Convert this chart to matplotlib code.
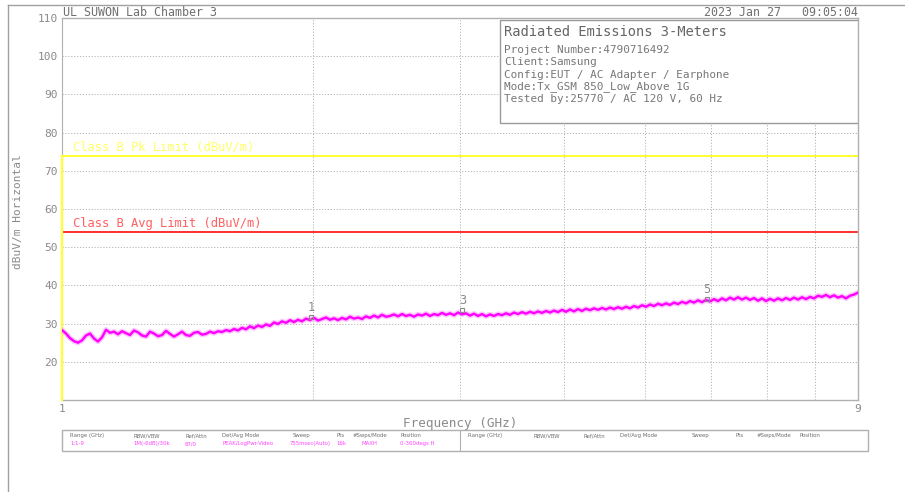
import numpy as np
import matplotlib.pyplot as plt
from matplotlib.lines import Line2D
from matplotlib.patches import Rectangle

# Peak trace, 200 samples log-spaced from 1 to 9 GHz
trace_db = [
    28.3, 27.4, 26.2, 25.4, 25.0, 25.6, 26.9, 27.4, 26.1, 25.3,
    26.4, 28.4, 27.6, 27.9, 27.2, 28.0, 27.5, 27.0, 28.2, 27.7,
    26.9, 26.6, 27.9, 27.4, 26.7, 27.0, 28.1, 27.3, 26.6, 27.2,
    27.9, 27.0, 26.8, 27.6, 27.8, 27.1, 27.3, 27.9, 27.5, 28.0,
    27.8, 28.3, 28.0, 28.6, 28.2, 28.9, 28.5, 29.3, 28.8, 29.5,
    29.1, 29.8, 29.4, 30.3, 29.9, 30.6, 30.2, 30.9, 30.4, 31.0,
    30.6, 31.3, 30.9, 31.5, 30.8, 31.2, 31.6, 31.0, 31.4, 30.9,
    31.5, 31.1, 31.8, 31.3, 31.6, 31.2, 31.9, 31.5, 32.1, 31.6,
    32.3, 31.8, 32.0, 32.4, 31.9, 32.5, 32.0, 32.3, 31.8, 32.4,
    32.1, 32.6, 32.0, 32.5, 32.2, 32.8, 32.3, 32.7, 32.2, 32.9,
    32.4, 32.7, 32.1, 32.6, 32.0, 32.5, 31.9, 32.4, 32.0, 32.5,
    32.2, 32.7, 32.3, 32.9, 32.5, 33.0, 32.6, 33.1, 32.7, 33.2,
    32.8, 33.3, 32.9, 33.4, 33.0, 33.6, 33.1, 33.7, 33.2, 33.8,
    33.3, 33.9, 33.5, 34.0, 33.6, 34.1, 33.7, 34.2, 33.8, 34.3,
    33.9, 34.4, 34.0, 34.6, 34.2, 34.8, 34.4, 35.0, 34.6, 35.2,
    34.8, 35.3, 34.9, 35.5, 35.1, 35.7, 35.3, 35.9, 35.5, 36.1,
    35.6, 36.2, 35.8, 36.4, 35.9, 36.6, 36.1, 36.8, 36.3, 36.9,
    36.3, 36.8, 36.2, 36.7, 36.0, 36.6, 35.9, 36.5, 36.0, 36.6,
    36.1, 36.7, 36.2, 36.8, 36.3, 36.9, 36.4, 37.0, 36.6, 37.3,
    37.0, 37.5, 36.9, 37.4, 36.8, 37.2, 36.6, 37.3, 37.6, 38.1,
]
freq_ghz = np.geomspace(1, 9, len(trace_db))

pk_limit = 74
avg_limit = 54

marker_ids = ['1', '3', '5']
marker_freq = [1.99, 3.02, 5.93]
marker_db = [31.2, 33.0, 35.8]

y_ticks = [20, 30, 40, 50, 60, 70, 80, 90, 100, 110]
x_grid = [2, 3, 4, 5, 6, 7, 8]

info_lines = [
    'Project Number:4790716492',
    'Client:Samsung',
    'Config:EUT / AC Adapter / Earphone',
    'Mode:Tx_GSM 850_Low_Above 1G',
    'Tested by:25770 / AC 120 V, 60 Hz',
]

table_heads = ['Range (GHz)', 'RBW/VBW', 'Ref/Attn', 'Det/Avg Mode', 'Sweep',
               'Pts', '#Swps/Mode', 'Position']
table_vals = ['1:1-9', '1M(-6dB)/30k', '87/0', 'PEAK/LogPwr-Video',
              '755msec(Auto)', '16k', 'MAXH', '0-360degs H']
head_x_left = [70, 133, 185, 222, 293, 336, 353, 400]
val_x_left = [70, 133, 185, 222, 290, 336, 361, 400]
head_x_right = [468, 533, 583, 620, 692, 735, 757, 799]

W, H = 905, 492
GRAY = '#8a8a8a'
MONO = 'DejaVu Sans Mono'


def fx(px):
    return px / W


def fy(py):
    return 1 - py / H


fig = plt.figure(figsize=(W / 100, H / 100), dpi=100)
fig.patch.set_facecolor('white')
ax = fig.add_axes([fx(62), fy(400), 796 / W, 382 / H])

ax.set_xscale('log')
ax.set_xlim(1, 9)
ax.set_ylim(10, 110)

for g in x_grid:
    ax.axvline(g, color='#b4b4b4', lw=0.7, ls=(0, (1.2, 1.8)), zorder=1)
for t in y_ticks[:-1]:
    ax.axhline(t, color='#b4b4b4', lw=0.7, ls=(0, (1.2, 1.8)), zorder=1)

# limit lines
ax.axhline(pk_limit, color='#ffff33', lw=1.4, zorder=2)
ax.axhline(avg_limit, color='#ff3030', lw=1.4, zorder=2)
ax.plot([1, 1], [10, pk_limit], color='#ffff33', lw=1.6, zorder=3, clip_on=False)
ax.text(1.03, 76.3, 'Class B Pk Limit (dBuV/m)', color='#ffff66', fontsize=8.7,
        family=MONO, va='center', ha='left')
ax.text(1.03, 56.2, 'Class B Avg Limit (dBuV/m)', color='#ff6060', fontsize=8.7,
        family=MONO, va='center', ha='left')

# trace
ax.plot(freq_ghz, trace_db, color='#ff99ff', lw=3.8, alpha=0.55, zorder=4)
ax.plot(freq_ghz, trace_db, color='#ff00ff', lw=1.7, zorder=5)

# markers
for mid, mf, md in zip(marker_ids, marker_freq, marker_db):
    ax.plot(mf, md + 0.6, marker='s', ms=3.5, mfc='none', mec=GRAY, mew=0.8, zorder=6)
    ax.text(mf, md + 3.0, mid, color=GRAY, fontsize=8.5, family=MONO,
            ha='center', va='center', zorder=6)

# info box
ax.add_patch(Rectangle((3.35, 82.5), 9 - 3.35, 109.5 - 82.5, facecolor='white',
                       edgecolor='#9a9a9a', lw=1.0, zorder=7))
fig.text(fx(504), fy(32), 'Radiated Emissions 3-Meters', color='#666666',
         fontsize=9.9, family=MONO, va='center', ha='left', zorder=8)
for i, line in enumerate(info_lines):
    fig.text(fx(504), fy(50 + 12.3 * i), line, color='#777777', fontsize=7.9,
             family=MONO, va='center', ha='left', zorder=8)

# axes styling
for side in ['top', 'right', 'bottom']:
    ax.spines[side].set_color('#b0b0b0')
    ax.spines[side].set_linewidth(1.0)
ax.spines['left'].set_color('#b0b0b0')
ax.set_yticks(y_ticks)
ax.set_yticklabels([str(t) for t in y_ticks], color=GRAY, fontsize=8, family=MONO)
ax.set_xticks([1, 9])
ax.set_xticks([], minor=True)
ax.set_xticklabels(['1', '9'], color=GRAY, fontsize=8, family=MONO)
ax.tick_params(length=0, pad=3)
fig.text(fx(18), fy(212), 'dBuV/m Horizontal', color=GRAY, fontsize=8, family=MONO,
         rotation=90, ha='center', va='center')
fig.text(fx(460), fy(423), 'Frequency (GHz)', color=GRAY, fontsize=9.1, family=MONO,
         ha='center', va='center')

# header texts
fig.text(fx(63), fy(12), 'UL SUWON Lab Chamber 3', color='#707070', fontsize=8.4,
         family=MONO, va='center', ha='left')
fig.text(fx(858), fy(12), '2023 Jan 27   09:05:04', color='#707070', fontsize=8.4,
         family=MONO, va='center', ha='right')

# settings table
fig.add_artist(Rectangle((fx(62), fy(451)), (868 - 62) / W, 21 / H, transform=fig.transFigure,
                         facecolor='none', edgecolor='#b0b0b0', lw=1.0))
fig.add_artist(Line2D([fx(460), fx(460)], [fy(451), fy(430)], color='#b0b0b0', lw=0.8))
for hx, head in zip(head_x_left, table_heads):
    fig.text(fx(hx), fy(435.5), head, color='#707070', fontsize=3.9, va='center')
for vx, val in zip(val_x_left, table_vals):
    fig.text(fx(vx), fy(443.5), val, color='#ff44ff', fontsize=3.9, va='center')
for hx, head in zip(head_x_right, table_heads):
    fig.text(fx(hx), fy(435.5), head, color='#707070', fontsize=3.9, va='center')

# outer frame
fig.add_artist(Line2D([fx(8), 1], [fy(5), fy(5)], color='#a0a0a0', lw=1.0))
fig.add_artist(Line2D([fx(8), fx(8)], [fy(5), 0], color='#a0a0a0', lw=1.0))

fig.savefig('out.png', dpi=100, facecolor='white')
